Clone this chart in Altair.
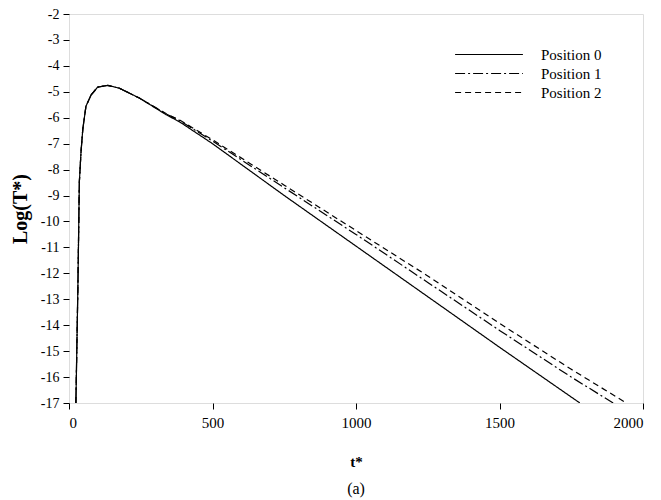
import altair as alt
import pandas as pd

# shared rising part (all positions)
t_rise = [24, 31, 36, 42, 48, 59, 77, 100, 135, 175, 245]
v_rise = [-17.0, -12.5, -8.49, -7.3, -6.45, -5.56, -5.12, -4.82, -4.75, -4.86, -5.24]

# decaying tails
t_p0 = [338, 387, 500, 750, 1000, 1250, 1500, 1780]
v_p0 = [-5.88, -6.17, -7.0, -9.0, -10.95, -12.9, -14.85, -17.0]

t_p1 = [338, 387, 500, 750, 1000, 1250, 1500, 1750, 1896]
v_p1 = [-5.85, -6.12, -6.9, -8.7, -10.5, -12.35, -14.2, -16.0, -17.0]

t_p2 = [338, 387, 500, 750, 1000, 1250, 1500, 1750, 1942]
v_p2 = [-5.84, -6.1, -6.85, -8.6, -10.35, -12.1, -13.93, -15.7, -17.0]

series = ["Position 0", "Position 1", "Position 2"]
x_ticks = [0, 500, 1000, 1500, 2000]
y_ticks = list(range(-17, -1))

rows = []
for name, ts, vs in zip(series, [t_p0, t_p1, t_p2], [v_p0, v_p1, v_p2]):
    for i, (t, v) in enumerate(zip(t_rise + ts, v_rise + vs)):
        rows.append({"t": t, "v": v, "series": name, "order": i})
df = pd.DataFrame(rows)

serif = "Liberation Serif"

chart = alt.Chart(df).mark_line(color="black", strokeWidth=1.2, clip=True).encode(
    x=alt.X("t:Q", scale=alt.Scale(domain=[0, 2000], nice=False),
            axis=alt.Axis(values=x_ticks, title="t*", titleFont=serif, titleFontSize=15,
                          titleFontWeight="bold", titleColor="black", titlePadding=24,
                          labelFont=serif, labelFontSize=15, labelColor="black",
                          labelExpr="'' + datum.value",
                          tickColor="black", tickSize=6, labelPadding=6,
                          domain=False, grid=False)),
    y=alt.Y("v:Q", scale=alt.Scale(domain=[-17, -2], nice=False),
            axis=alt.Axis(values=y_ticks, title="Log(T*)", titleFont=serif, titleFontSize=20,
                          titleFontWeight="bold", titleColor="black", titlePadding=10,
                          labelFont=serif, labelFontSize=14, labelColor="black",
                          labelExpr="'' + datum.value",
                          tickColor="black", tickSize=6, labelPadding=4,
                          domain=False, grid=False)),
    strokeDash=alt.StrokeDash("series:N",
        scale=alt.Scale(domain=series, range=[[1, 0], [10, 3, 2, 3], [6, 4]]),
        legend=alt.Legend(title=None, orient="none", legendX=385, legendY=32,
                          symbolType="stroke", symbolSize=4600, symbolStrokeWidth=1.2,
                          symbolStrokeColor="black", labelFont=serif, labelFontSize=15,
                          labelColor="black", labelOffset=17, clipHeight=17,
                          rowPadding=2)),
    order="order:Q",
).properties(
    width=574, height=389,
    autosize=alt.AutoSizeParams(type="none"),
    title=alt.TitleParams("(a)", orient="bottom", font=serif, fontSize=16,
                          fontWeight="normal", color="black", offset=12),
).configure_view(stroke="black", strokeWidth=1.5
).configure(padding={"left": 61, "top": 6, "right": 10, "bottom": 96})

chart.save("out.html", embed_options={"renderer": "svg", "actions": False})
